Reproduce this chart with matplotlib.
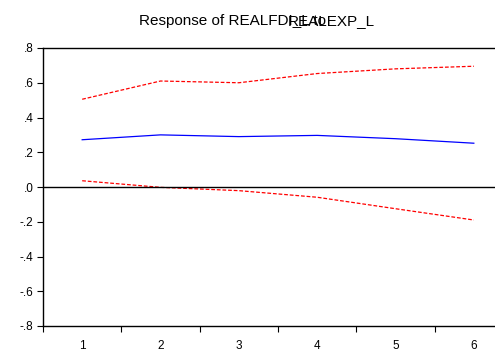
import matplotlib
matplotlib.use("Agg")
import matplotlib.pyplot as plt
import numpy as np

periods = [1, 2, 3, 4, 5, 6]
response = [0.272, 0.300, 0.290, 0.297, 0.278, 0.252]
upper_band = [0.505, 0.610, 0.600, 0.653, 0.680, 0.695]
lower_band = [0.036, -0.002, -0.021, -0.059, -0.125, -0.190]
y_ticks = [-0.8, -0.6, -0.4, -0.2, 0.0, 0.2, 0.4, 0.6, 0.8]
y_tick_labels = ["-.8", "-.6", "-.4", "-.2", ".0", ".2", ".4", ".6", ".8"]

plt.rcParams['font.family'] = ['Liberation Sans', 'DejaVu Sans']

W, H = 495, 351
fig = plt.figure(figsize=(W / 100, H / 100), dpi=100)
left, right, top, bottom = 43, 513, 48, 326
ax = fig.add_axes([left / W, (H - bottom) / H, (right - left) / W, (bottom - top) / H])

ax.plot(periods, upper_band, color="red", lw=0.9, ls=(0, (3, 1.5)))
ax.plot(periods, lower_band, color="red", lw=0.9, ls=(0, (3, 1.5)))
ax.plot(periods, response, color="blue", lw=0.9)
ax.axhline(0, color="black", lw=1.0)

ax.set_xlim(0.5, 6.5)
ax.set_ylim(-0.8, 0.8)
ax.set_yticks(y_ticks)
ax.set_yticklabels(y_tick_labels)
ax.set_xticks(periods)
ax.set_xticklabels([str(p) for p in periods])
ax.set_xticks(np.arange(0.5, 7.0, 1.0), minor=True)
ax.tick_params(axis="x", which="major", length=0, pad=10, labelsize=8.5)
ax.tick_params(axis="x", which="minor", length=4, width=0.8, direction="out")
ax.tick_params(axis="y", which="major", length=4, width=0.8, direction="out", labelsize=8.5, pad=3)

for side in ["left", "bottom", "top"]:
    ax.spines[side].set_linewidth(1.0)
    ax.spines[side].set_color("black")
ax.spines["right"].set_visible(False)

# Title drawn as two pieces that run into each other, sharing one baseline
fig.text(139 / W, 1 - 25 / H, "Response of REALFDI_L to", fontsize=11, ha="left", va="baseline")
fig.text(288 / W, 1 - 25 / H, "REALEXP_L", fontsize=11, ha="left", va="baseline")

fig.savefig("out.png", dpi=100)
